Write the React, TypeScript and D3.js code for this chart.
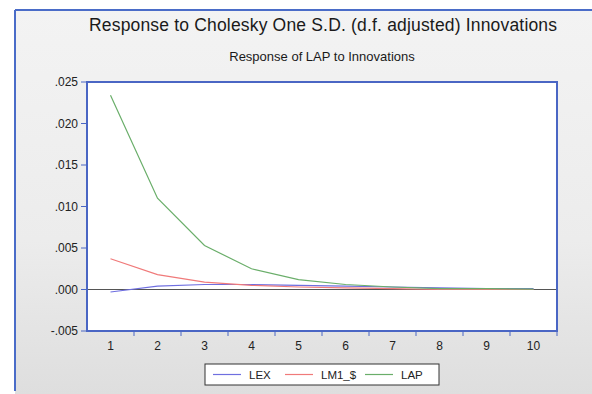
import React from "react";
import * as d3 from "d3";

const periods = [1, 2, 3, 4, 5, 6, 7, 8, 9, 10];
const lexValues = [-0.0003, 0.0004, 0.0006, 0.0006, 0.0005, 0.0004, 0.0003, 0.0002, 0.0001, 0.0001];
const lm1Values = [0.0037, 0.0018, 0.0009, 0.0005, 0.0003, 0.0002, 0.0001, 0.0, 0.0, 0.0];
const lapValues = [0.0234, 0.011, 0.0053, 0.0025, 0.0012, 0.0006, 0.0003, 0.0001, 0.0001, 0.00005];
const yTicks = [-0.005, 0.0, 0.005, 0.01, 0.015, 0.02, 0.025];
const seriesNames = ["LEX", "LM1_$", "LAP"];
const seriesColors = ["#6f6fe0", "#f07a7a", "#6aae6a"];
const title = "Response to Cholesky One S.D. (d.f. adjusted) Innovations";
const subtitle = "Response of LAP to Innovations";

export default function App() {
  const W = 592, H = 394;
  const left = 87, right = 557, top = 82, bottom = 331;
  const x = d3.scaleBand<number>().domain(periods).range([left, right]).paddingInner(0).paddingOuter(0);
  const y = d3.scaleLinear().domain([-0.005, 0.025]).range([bottom, top]);
  const cx = (p: number) => (x(p) as number) + x.bandwidth() / 2;
  const line = d3.line<[number, number]>().x((d) => cx(d[0])).y((d) => y(d[1]));
  const allSeries = [lexValues, lm1Values, lapValues];
  const fmt = (v: number) => {
    const s = d3.format(".3f")(Math.abs(v));
    return (v < 0 ? "-" : "") + s.replace(/^0\./, ".");
  };
  const font = "Arial, 'Liberation Sans', sans-serif";
  return (
    <svg width={W} height={H} style={{ position: "absolute", left: 0, top: 0 }} fontFamily={font}>
      <defs>
        <linearGradient id="bg" x1="0" y1="0" x2="0" y2="1">
          <stop offset="0" stopColor="#f3f3f3" />
          <stop offset="0.6" stopColor="#ececec" />
          <stop offset="1" stopColor="#dedede" />
        </linearGradient>
      </defs>
      <rect x={0} y={0} width={W} height={H} fill="#ffffff" />
      <rect x={15} y={10} width={W - 15} height={H - 10} fill="url(#bg)" />
      <line x1={15} y1={10} x2={W} y2={10} stroke="#4a6cc8" strokeWidth={2} />
      <line x1={15} y1={10} x2={15} y2={391} stroke="#4a6cc8" strokeWidth={2} />
      <text x={89} y={30.5} fontSize={17.5} textLength={468} lengthAdjust="spacing" fill="#1a1a1a">{title}</text>
      <text x={322} y={61} textAnchor="middle" fontSize={13} fill="#1a1a1a">{subtitle}</text>
      <rect x={left} y={top} width={right - left} height={bottom - top} fill="#ffffff" />
      <line x1={left} x2={right} y1={y(0)} y2={y(0)} stroke="#555555" strokeWidth={1} />
      {allSeries.map((vals, i) => (
        <path
          key={seriesNames[i]}
          d={line(periods.map((p, j) => [p, vals[j]] as [number, number])) || ""}
          fill="none"
          stroke={seriesColors[i]}
          strokeWidth={1.2}
        />
      ))}
      <rect x={left} y={top} width={right - left} height={bottom - top} fill="none" stroke="#4a66c4" strokeWidth={2} />
      {yTicks.map((t) => (
        <g key={t}>
          <line x1={left - 6} x2={left} y1={y(t)} y2={y(t)} stroke="#4a66c4" strokeWidth={1} />
          <text x={left - 9} y={y(t) + 4} textAnchor="end" fontSize={12} fill="#222">{fmt(t)}</text>
        </g>
      ))}
      {periods.map((p) => (
        <g key={p}>
          <line x1={(x(p) as number) + x.bandwidth()} x2={(x(p) as number) + x.bandwidth()} y1={bottom} y2={bottom + 5} stroke="#4a66c4" strokeWidth={1} />
          <text x={cx(p)} y={bottom + 19} textAnchor="middle" fontSize={12} fill="#222">{p}</text>
        </g>
      ))}
      <rect x={205} y={364} width={234} height={21} fill="#ffffff" stroke="#333" strokeWidth={1} />
      {seriesNames.map((n, i) => {
        const lx = [213, 285, 365][i];
        return (
          <g key={n}>
            <line x1={lx} x2={lx + 28} y1={374.5} y2={374.5} stroke={seriesColors[i]} strokeWidth={1.2} />
            <text x={lx + 36} y={379} fontSize={11.5} fill="#222">{n}</text>
          </g>
        );
      })}
    </svg>
  );
}
